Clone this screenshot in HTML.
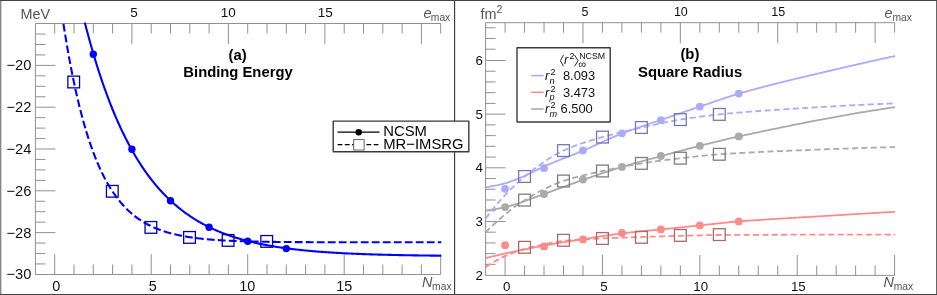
<!DOCTYPE html>
<html><head><meta charset="utf-8"><title>chart</title>
<style>
html,body{margin:0;padding:0;background:#fff;}
body{width:937px;height:295px;overflow:hidden;font-family:"Liberation Sans",sans-serif;}
svg{display:block;will-change:transform;font-family:"Liberation Sans",sans-serif;}
</style></head><body>
<svg width="937" height="295" viewBox="0 0 937 295">
<rect x="0" y="0" width="937" height="295" fill="#fff"/>
<g id="panelA">
<path d="M35.40,23.50H440.70M35.40,274.50H440.70M35.40,23.50V274.50" stroke="#858585" stroke-width="0.9" fill="none"/>
<path d="M54.70,23.50v10M54.70,274.50v-20.4M74.00,23.50v10M74.00,274.50v-10M93.30,23.50v10M93.30,274.50v-10M112.60,23.50v10M112.60,274.50v-10M131.90,23.50v20.4M131.90,274.50v-10M151.20,23.50v10M151.20,274.50v-20.4M170.50,23.50v10M170.50,274.50v-10M189.80,23.50v10M189.80,274.50v-10M209.10,23.50v10M209.10,274.50v-10M228.40,23.50v20.4M228.40,274.50v-10M247.70,23.50v10M247.70,274.50v-20.4M267.00,23.50v10M267.00,274.50v-10M286.30,23.50v10M286.30,274.50v-10M305.60,23.50v10M305.60,274.50v-10M324.90,23.50v20.4M324.90,274.50v-10M344.20,23.50v10M344.20,274.50v-20.4M363.50,23.50v10M363.50,274.50v-10M382.80,23.50v10M382.80,274.50v-10M402.10,23.50v10M402.10,274.50v-10M421.40,23.50v20.4M421.40,274.50v-10M440.70,23.50v10M440.70,274.50v-20.4M35.40,263.95h10M35.40,253.50h10M35.40,243.05h10M35.40,222.15h10M35.40,211.70h10M35.40,201.25h10M35.40,180.35h10M35.40,169.90h10M35.40,159.45h10M35.40,138.55h10M35.40,128.10h10M35.40,117.65h10M35.40,96.75h10M35.40,86.30h10M35.40,75.85h10M35.40,54.95h10M35.40,44.50h10M35.40,34.05h10M35.40,65.40h20M35.40,107.20h20M35.40,149.00h20M35.40,190.80h20M35.40,232.60h20" stroke="#858585" stroke-width="0.9" fill="none"/>
<text x="133.90" y="17.4" text-anchor="middle" font-size="13.5" fill="#111">5</text>
<text x="228.20" y="17.4" text-anchor="middle" font-size="13.5" fill="#111">10</text>
<text x="325.20" y="17.4" text-anchor="middle" font-size="13.5" fill="#111">15</text>
<text x="56.30" y="291.2" text-anchor="middle" font-size="14.4" fill="#111">0</text>
<text x="152.80" y="291.2" text-anchor="middle" font-size="14.4" fill="#111">5</text>
<text x="247.20" y="291.2" text-anchor="middle" font-size="14.4" fill="#111">10</text>
<text x="344.20" y="291.2" text-anchor="middle" font-size="14.4" fill="#111">15</text>
<text x="31.30" y="70.46" text-anchor="end" font-size="14.67" fill="#111">−20</text>
<text x="31.30" y="112.26" text-anchor="end" font-size="14.67" fill="#111">−22</text>
<text x="31.30" y="154.06" text-anchor="end" font-size="14.67" fill="#111">−24</text>
<text x="31.30" y="195.86" text-anchor="end" font-size="14.67" fill="#111">−26</text>
<text x="31.30" y="237.66" text-anchor="end" font-size="14.67" fill="#111">−28</text>
<text x="31.30" y="279.46" text-anchor="end" font-size="14.67" fill="#111">−30</text>
<text x="20.6" y="18.9" font-size="14.4" fill="#555">MeV</text>
<text x="423.6" y="18.2" font-size="14.4" fill="#555"><tspan font-style="italic">e</tspan><tspan font-size="10.3" dy="2.4" dx="-0.8">max</tspan></text>
<text x="422.0" y="287.4" font-size="14.4" fill="#555"><tspan font-style="italic">N</tspan><tspan font-size="10.3" dy="2.3" dx="-0.3">max</tspan></text>
<clipPath id="clipA"><rect x="30" y="22.4" width="420" height="260"/></clipPath>
<path d="M76.09,-14.20 L77.11,-9.63 L78.13,-5.14 L79.14,-0.73 L80.16,3.61 L81.18,7.88 L82.20,12.07 L83.21,16.20 L84.23,20.25 L85.25,24.24 L86.26,28.15 L87.28,32.01 L88.30,35.79 L89.32,39.51 L90.33,43.17 L91.35,46.77 L92.37,50.31 L93.39,53.79 L94.40,57.21 L95.42,60.57 L96.44,63.87 L97.45,67.12 L98.47,70.31 L99.49,73.45 L100.51,76.54 L101.52,79.58 L102.54,82.56 L103.56,85.49 L104.58,88.38 L105.59,91.21 L106.61,94.00 L107.63,96.74 L108.65,99.43 L109.66,102.08 L110.68,104.68 L111.70,107.24 L112.71,109.76 L113.73,112.23 L114.75,114.67 L115.77,117.06 L116.78,119.41 L117.80,121.72 L118.82,123.99 L119.84,126.23 L120.85,128.42 L121.87,130.58 L122.89,132.70 L123.90,134.79 L124.92,136.84 L125.94,138.86 L126.96,140.84 L127.97,142.79 L128.99,144.71 L130.01,146.59 L131.03,148.44 L132.04,150.26 L133.06,152.05 L134.08,153.81 L135.09,155.54 L136.11,157.24 L137.13,158.92 L138.15,160.56 L139.16,162.18 L140.18,163.77 L141.20,165.33 L142.22,166.86 L143.23,168.37 L144.25,169.86 L145.27,171.32 L146.28,172.75 L147.30,174.16 L148.32,175.55 L149.34,176.91 L150.35,178.25 L151.37,179.57 L152.39,180.87 L153.41,182.14 L154.42,183.39 L155.44,184.62 L156.46,185.83 L157.48,187.02 L158.49,188.19 L159.51,189.34 L160.53,190.47 L161.54,191.58 L162.56,192.68 L163.58,193.75 L164.60,194.81 L165.61,195.84 L166.63,196.87 L167.65,197.87 L168.67,198.86 L169.68,199.83 L170.70,200.78 L171.72,201.72 L172.73,202.64 L173.75,203.54 L174.77,204.43 L175.79,205.31 L176.80,206.17 L177.82,207.02 L178.84,207.85 L179.86,208.67 L180.87,209.47 L181.89,210.26 L182.91,211.04 L183.92,211.80 L184.94,212.55 L185.96,213.29 L186.98,214.02 L187.99,214.73 L189.01,215.43 L190.03,216.12 L191.05,216.80 L192.06,217.47 L193.08,218.13 L194.10,218.77 L195.12,219.40 L196.13,220.03 L197.15,220.64 L198.17,221.24 L199.18,221.83 L200.20,222.41 L201.22,222.99 L202.24,223.55 L203.25,224.10 L204.27,224.65 L205.29,225.18 L206.31,225.71 L207.32,226.22 L208.34,226.73 L209.36,227.23 L210.37,227.72 L211.39,228.20 L212.41,228.68 L213.43,229.14 L214.44,229.60 L215.46,230.05 L216.48,230.50 L217.50,230.93 L218.51,231.36 L219.53,231.78 L220.55,232.19 L221.56,232.60 L222.58,233.00 L223.60,233.39 L224.62,233.78 L225.63,234.16 L226.65,234.54 L227.67,234.90 L228.69,235.26 L229.70,235.62 L230.72,235.97 L231.74,236.31 L232.75,236.65 L233.77,236.98 L234.79,237.31 L235.81,237.63 L236.82,237.94 L237.84,238.25 L238.86,238.56 L239.88,238.86 L240.89,239.15 L241.91,239.44 L242.93,239.73 L243.95,240.01 L244.96,240.28 L245.98,240.55 L247.00,240.82 L248.01,241.08 L249.03,241.34 L250.05,241.59 L251.07,241.84 L252.08,242.08 L253.10,242.32 L254.12,242.56 L255.14,242.79 L256.15,243.02 L257.17,243.24 L258.19,243.46 L259.20,243.68 L260.22,243.89 L261.24,244.10 L262.26,244.31 L263.27,244.51 L264.29,244.71 L265.31,244.90 L266.33,245.10 L267.34,245.29 L268.36,245.47 L269.38,245.65 L270.39,245.83 L271.41,246.01 L272.43,246.18 L273.45,246.36 L274.46,246.52 L275.48,246.69 L276.50,246.85 L277.52,247.01 L278.53,247.17 L279.55,247.32 L280.57,247.47 L281.58,247.62 L282.60,247.77 L283.62,247.91 L284.64,248.05 L285.65,248.19 L286.67,248.33 L287.69,248.46 L288.71,248.60 L289.72,248.73 L290.74,248.85 L291.76,248.98 L292.78,249.10 L293.79,249.23 L294.81,249.34 L295.83,249.46 L296.84,249.58 L297.86,249.69 L298.88,249.80 L299.90,249.91 L300.91,250.02 L301.93,250.13 L302.95,250.23 L303.97,250.33 L304.98,250.43 L306.00,250.53 L307.02,250.63 L308.03,250.73 L309.05,250.82 L310.07,250.91 L311.09,251.00 L312.10,251.09 L313.12,251.18 L314.14,251.27 L315.16,251.35 L316.17,251.44 L317.19,251.52 L318.21,251.60 L319.22,251.68 L320.24,251.76 L321.26,251.83 L322.28,251.91 L323.29,251.98 L324.31,252.06 L325.33,252.13 L326.35,252.20 L327.36,252.27 L328.38,252.33 L329.40,252.40 L330.42,252.47 L331.43,252.53 L332.45,252.60 L333.47,252.66 L334.48,252.72 L335.50,252.78 L336.52,252.84 L337.54,252.90 L338.55,252.96 L339.57,253.01 L340.59,253.07 L341.61,253.12 L342.62,253.18 L343.64,253.23 L344.66,253.28 L345.67,253.33 L346.69,253.38 L347.71,253.43 L348.73,253.48 L349.74,253.53 L350.76,253.57 L351.78,253.62 L352.80,253.66 L353.81,253.71 L354.83,253.75 L355.85,253.80 L356.86,253.84 L357.88,253.88 L358.90,253.92 L359.92,253.96 L360.93,254.00 L361.95,254.04 L362.97,254.08 L363.99,254.11 L365.00,254.15 L366.02,254.19 L367.04,254.22 L368.05,254.26 L369.07,254.29 L370.09,254.33 L371.11,254.36 L372.12,254.39 L373.14,254.43 L374.16,254.46 L375.18,254.49 L376.19,254.52 L377.21,254.55 L378.23,254.58 L379.25,254.61 L380.26,254.64 L381.28,254.66 L382.30,254.69 L383.31,254.72 L384.33,254.75 L385.35,254.77 L386.37,254.80 L387.38,254.82 L388.40,254.85 L389.42,254.87 L390.44,254.90 L391.45,254.92 L392.47,254.94 L393.49,254.97 L394.50,254.99 L395.52,255.01 L396.54,255.03 L397.56,255.05 L398.57,255.08 L399.59,255.10 L400.61,255.12 L401.63,255.14 L402.64,255.16 L403.66,255.18 L404.68,255.19 L405.69,255.21 L406.71,255.23 L407.73,255.25 L408.75,255.27 L409.76,255.28 L410.78,255.30 L411.80,255.32 L412.82,255.33 L413.83,255.35 L414.85,255.37 L415.87,255.38 L416.88,255.40 L417.90,255.41 L418.92,255.43 L419.94,255.44 L420.95,255.46 L421.97,255.47 L422.99,255.49 L424.01,255.50 L425.02,255.51 L426.04,255.53 L427.06,255.54 L428.08,255.55 L429.09,255.57 L430.11,255.58 L431.13,255.59 L432.14,255.60 L433.16,255.61 L434.18,255.63 L435.20,255.64 L436.21,255.65 L437.23,255.66 L438.25,255.67 L439.27,255.68 L440.28,255.69 L441.30,255.70" stroke="#0000ff" stroke-width="2.1" fill="none" clip-path="url(#clipA)"/>
<path d="M57.78,-16.32 L58.80,-8.62 L59.82,-1.15 L60.83,6.10 L61.85,13.13 L62.87,19.95 L63.88,26.57 L64.90,33.00 L65.92,39.23 L66.94,45.28 L67.95,51.14 L68.97,56.83 L69.99,62.36 L71.01,67.71 L72.02,72.91 L73.04,77.96 L74.06,82.85 L75.07,87.60 L76.09,92.20 L77.11,96.67 L78.13,101.01 L79.14,105.22 L80.16,109.30 L81.18,113.26 L82.20,117.10 L83.21,120.83 L84.23,124.45 L85.25,127.96 L86.26,131.36 L87.28,134.66 L88.30,137.87 L89.32,140.98 L90.33,144.00 L91.35,146.92 L92.37,149.76 L93.39,152.52 L94.40,155.19 L95.42,157.79 L96.44,160.30 L97.45,162.74 L98.47,165.11 L99.49,167.41 L100.51,169.64 L101.52,171.81 L102.54,173.91 L103.56,175.94 L104.58,177.92 L105.59,179.84 L106.61,181.70 L107.63,183.50 L108.65,185.25 L109.66,186.95 L110.68,188.60 L111.70,190.20 L112.71,191.75 L113.73,193.26 L114.75,194.72 L115.77,196.13 L116.78,197.51 L117.80,198.84 L118.82,200.14 L119.84,201.39 L120.85,202.61 L121.87,203.79 L122.89,204.94 L123.90,206.05 L124.92,207.13 L125.94,208.18 L126.96,209.20 L127.97,210.18 L128.99,211.14 L130.01,212.07 L131.03,212.97 L132.04,213.84 L133.06,214.69 L134.08,215.51 L135.09,216.31 L136.11,217.09 L137.13,217.84 L138.15,218.57 L139.16,219.27 L140.18,219.96 L141.20,220.63 L142.22,221.27 L143.23,221.90 L144.25,222.51 L145.27,223.10 L146.28,223.67 L147.30,224.22 L148.32,224.76 L149.34,225.28 L150.35,225.79 L151.37,226.28 L152.39,226.76 L153.41,227.22 L154.42,227.67 L155.44,228.11 L156.46,228.53 L157.48,228.94 L158.49,229.34 L159.51,229.73 L160.53,230.10 L161.54,230.47 L162.56,230.82 L163.58,231.16 L164.60,231.49 L165.61,231.82 L166.63,232.13 L167.65,232.43 L168.67,232.73 L169.68,233.01 L170.70,233.29 L171.72,233.56 L172.73,233.82 L173.75,234.07 L174.77,234.32 L175.79,234.56 L176.80,234.79 L177.82,235.01 L178.84,235.23 L179.86,235.44 L180.87,235.65 L181.89,235.84 L182.91,236.04 L183.92,236.22 L184.94,236.41 L185.96,236.58 L186.98,236.75 L187.99,236.92 L189.01,237.08 L190.03,237.23 L191.05,237.39 L192.06,237.53 L193.08,237.68 L194.10,237.81 L195.12,237.95 L196.13,238.08 L197.15,238.20 L198.17,238.33 L199.18,238.45 L200.20,238.56 L201.22,238.67 L202.24,238.78 L203.25,238.89 L204.27,238.99 L205.29,239.09 L206.31,239.18 L207.32,239.28 L208.34,239.37 L209.36,239.46 L210.37,239.54 L211.39,239.62 L212.41,239.70 L213.43,239.78 L214.44,239.86 L215.46,239.93 L216.48,240.00 L217.50,240.07 L218.51,240.14 L219.53,240.20 L220.55,240.27 L221.56,240.33 L222.58,240.39 L223.60,240.44 L224.62,240.50 L225.63,240.55 L226.65,240.61 L227.67,240.66 L228.69,240.71 L229.70,240.76 L230.72,240.80 L231.74,240.85 L232.75,240.89 L233.77,240.93 L234.79,240.97 L235.81,241.01 L236.82,241.05 L237.84,241.09 L238.86,241.13 L239.88,241.16 L240.89,241.20 L241.91,241.23 L242.93,241.26 L243.95,241.30 L244.96,241.33 L245.98,241.36 L247.00,241.38 L248.01,241.41 L249.03,241.44 L250.05,241.47 L251.07,241.49 L252.08,241.52 L253.10,241.54 L254.12,241.56 L255.14,241.59 L256.15,241.61 L257.17,241.63 L258.19,241.65 L259.20,241.67 L260.22,241.69 L261.24,241.71 L262.26,241.73 L263.27,241.74 L264.29,241.76 L265.31,241.78 L266.33,241.79 L267.34,241.81 L268.36,241.82 L269.38,241.84 L270.39,241.85 L271.41,241.87 L272.43,241.88 L273.45,241.89 L274.46,241.91 L275.48,241.92 L276.50,241.93 L277.52,241.94 L278.53,241.95 L279.55,241.96 L280.57,241.97 L281.58,241.99 L282.60,242.00 L283.62,242.00 L284.64,242.01 L285.65,242.02 L286.67,242.03 L287.69,242.04 L288.71,242.05 L289.72,242.06 L290.74,242.06 L291.76,242.07 L292.78,242.08 L293.79,242.09 L294.81,242.09 L295.83,242.10 L296.84,242.11 L297.86,242.11 L298.88,242.12 L299.90,242.13 L300.91,242.13 L301.93,242.14 L302.95,242.14 L303.97,242.15 L304.98,242.15 L306.00,242.16 L307.02,242.16 L308.03,242.17 L309.05,242.17 L310.07,242.18 L311.09,242.18 L312.10,242.18 L313.12,242.19 L314.14,242.19 L315.16,242.20 L316.17,242.20 L317.19,242.20 L318.21,242.21 L319.22,242.21 L320.24,242.21 L321.26,242.22 L322.28,242.22 L323.29,242.22 L324.31,242.23 L325.33,242.23 L326.35,242.23 L327.36,242.23 L328.38,242.24 L329.40,242.24 L330.42,242.24 L331.43,242.24 L332.45,242.25 L333.47,242.25 L334.48,242.25 L335.50,242.25 L336.52,242.25 L337.54,242.26 L338.55,242.26 L339.57,242.26 L340.59,242.26 L341.61,242.26 L342.62,242.27 L343.64,242.27 L344.66,242.27 L345.67,242.27 L346.69,242.27 L347.71,242.27 L348.73,242.27 L349.74,242.28 L350.76,242.28 L351.78,242.28 L352.80,242.28 L353.81,242.28 L354.83,242.28 L355.85,242.28 L356.86,242.28 L357.88,242.29 L358.90,242.29 L359.92,242.29 L360.93,242.29 L361.95,242.29 L362.97,242.29 L363.99,242.29 L365.00,242.29 L366.02,242.29 L367.04,242.29 L368.05,242.29 L369.07,242.30 L370.09,242.30 L371.11,242.30 L372.12,242.30 L373.14,242.30 L374.16,242.30 L375.18,242.30 L376.19,242.30 L377.21,242.30 L378.23,242.30 L379.25,242.30 L380.26,242.30 L381.28,242.30 L382.30,242.30 L383.31,242.30 L384.33,242.30 L385.35,242.30 L386.37,242.31 L387.38,242.31 L388.40,242.31 L389.42,242.31 L390.44,242.31 L391.45,242.31 L392.47,242.31 L393.49,242.31 L394.50,242.31 L395.52,242.31 L396.54,242.31 L397.56,242.31 L398.57,242.31 L399.59,242.31 L400.61,242.31 L401.63,242.31 L402.64,242.31 L403.66,242.31 L404.68,242.31 L405.69,242.31 L406.71,242.31 L407.73,242.31 L408.75,242.31 L409.76,242.31 L410.78,242.31 L411.80,242.31 L412.82,242.31 L413.83,242.31 L414.85,242.31 L415.87,242.31 L416.88,242.31 L417.90,242.31 L418.92,242.31 L419.94,242.31 L420.95,242.31 L421.97,242.31 L422.99,242.31 L424.01,242.32 L425.02,242.32 L426.04,242.32 L427.06,242.32 L428.08,242.32 L429.09,242.32 L430.11,242.32 L431.13,242.32 L432.14,242.32 L433.16,242.32 L434.18,242.32 L435.20,242.32 L436.21,242.32 L437.23,242.32 L438.25,242.32 L439.27,242.32 L440.28,242.32 L441.30,242.32" stroke="#0000ff" stroke-width="2.1" fill="none" stroke-dasharray="7.8 3.2" stroke-dashoffset="3.5" clip-path="url(#clipA)"/>
<rect x="67.85" y="76.15" width="11.7" height="11.7" fill="none" stroke="#0000b0" stroke-width="1.3"/><rect x="106.45" y="185.45" width="11.7" height="11.7" fill="none" stroke="#0000b0" stroke-width="1.3"/><rect x="145.05" y="221.55" width="11.7" height="11.7" fill="none" stroke="#0000b0" stroke-width="1.3"/><rect x="183.65" y="231.55" width="11.7" height="11.7" fill="none" stroke="#0000b0" stroke-width="1.3"/><rect x="222.25" y="234.55" width="11.7" height="11.7" fill="none" stroke="#0000b0" stroke-width="1.3"/><rect x="260.85" y="235.55" width="11.7" height="11.7" fill="none" stroke="#0000b0" stroke-width="1.3"/>
<circle cx="93.30" cy="54.20" r="3.7" fill="#0000ff"/><circle cx="131.90" cy="149.30" r="3.7" fill="#0000ff"/><circle cx="170.50" cy="200.80" r="3.7" fill="#0000ff"/><circle cx="209.10" cy="227.20" r="3.7" fill="#0000ff"/><circle cx="247.70" cy="241.20" r="3.7" fill="#0000ff"/><circle cx="286.30" cy="248.60" r="3.7" fill="#0000ff"/>
<text x="237.6" y="59.7" text-anchor="middle" font-size="14.8" font-weight="bold" fill="#000">(a)</text>
<text x="238" y="77.3" text-anchor="middle" font-size="14.8" font-weight="bold" fill="#000">Binding Energy</text>
</g>
<g id="panelB">
<path d="M485.60,22.70H894.58M485.60,275.40H894.58M485.60,22.70V275.40" stroke="#858585" stroke-width="0.9" fill="none"/>
<path d="M505.08,22.70v10M505.08,275.40v-20.4M524.55,22.70v10M524.55,275.40v-10M544.02,22.70v10M544.02,275.40v-10M563.50,22.70v10M563.50,275.40v-10M582.98,22.70v20.4M582.98,275.40v-10M602.45,22.70v10M602.45,275.40v-20.4M621.93,22.70v10M621.93,275.40v-10M641.40,22.70v10M641.40,275.40v-10M660.88,22.70v10M660.88,275.40v-10M680.35,22.70v20.4M680.35,275.40v-10M699.83,22.70v10M699.83,275.40v-20.4M719.30,22.70v10M719.30,275.40v-10M738.78,22.70v10M738.78,275.40v-10M758.25,22.70v10M758.25,275.40v-10M777.73,22.70v20.4M777.73,275.40v-10M797.20,22.70v10M797.20,275.40v-20.4M816.68,22.70v10M816.68,275.40v-10M836.15,22.70v10M836.15,275.40v-10M855.62,22.70v10M855.62,275.40v-10M875.10,22.70v20.4M875.10,275.40v-10M894.58,22.70v10M894.58,275.40v-20.4M485.60,264.37h10M485.60,253.64h10M485.60,242.91h10M485.60,232.18h10M485.60,210.72h10M485.60,199.99h10M485.60,189.26h10M485.60,178.53h10M485.60,157.07h10M485.60,146.34h10M485.60,135.61h10M485.60,124.88h10M485.60,103.42h10M485.60,92.69h10M485.60,81.96h10M485.60,71.23h10M485.60,49.22h10M485.60,38.49h10M485.60,27.76h10M485.60,221.45h20M485.60,167.80h20M485.60,114.15h20M485.60,60.50h20" stroke="#858585" stroke-width="0.9" fill="none"/>
<text x="584.88" y="15.7" text-anchor="middle" font-size="12.5" fill="#111">5</text>
<text x="680.85" y="15.7" text-anchor="middle" font-size="12.5" fill="#111">10</text>
<text x="778.23" y="15.7" text-anchor="middle" font-size="12.5" fill="#111">15</text>
<text x="506.68" y="291.2" text-anchor="middle" font-size="13.3" fill="#111">0</text>
<text x="604.05" y="291.2" text-anchor="middle" font-size="13.3" fill="#111">5</text>
<text x="700.73" y="291.2" text-anchor="middle" font-size="13.3" fill="#111">10</text>
<text x="798.30" y="291.2" text-anchor="middle" font-size="13.3" fill="#111">15</text>
<text x="482.80" y="279.69" text-anchor="end" font-size="13.3" fill="#111">2</text>
<text x="482.80" y="226.04" text-anchor="end" font-size="13.3" fill="#111">3</text>
<text x="482.80" y="172.39" text-anchor="end" font-size="13.3" fill="#111">4</text>
<text x="482.80" y="118.74" text-anchor="end" font-size="13.3" fill="#111">5</text>
<text x="482.80" y="65.09" text-anchor="end" font-size="13.3" fill="#111">6</text>
<text x="480.4" y="18.9" font-size="14.4" fill="#555">fm<tspan font-size="10.5" dy="-6">2</tspan></text>
<text x="884.6" y="18.2" font-size="14.4" fill="#555"><tspan font-style="italic">e</tspan><tspan font-size="10.3" dy="2.4" dx="-0.2">max</tspan></text>
<text x="883.6" y="287.4" font-size="14.4" fill="#555"><tspan font-style="italic">N</tspan><tspan font-size="10.3" dy="2.3" dx="-0.3">max</tspan></text>
<path d="M485.60,210.56 L486.97,210.39 L488.34,210.20 L489.71,210.01 L491.08,209.80 L492.45,209.58 L493.82,209.35 L495.19,209.12 L496.56,208.87 L497.93,208.61 L499.29,208.35 L500.66,208.07 L502.03,207.79 L503.40,207.50 L504.77,207.20 L506.14,206.88 L507.51,206.55 L508.88,206.20 L510.25,205.84 L511.62,205.45 L512.99,205.05 L514.36,204.63 L515.73,204.20 L517.10,203.76 L518.47,203.31 L519.84,202.84 L521.21,202.37 L522.58,201.88 L523.95,201.39 L525.31,200.89 L526.68,200.39 L528.05,199.88 L529.42,199.37 L530.79,198.86 L532.16,198.34 L533.53,197.83 L534.90,197.32 L536.27,196.80 L537.64,196.29 L539.01,195.79 L540.38,195.29 L541.75,194.80 L543.12,194.31 L544.49,193.83 L545.86,193.35 L547.23,192.87 L548.60,192.38 L549.97,191.89 L551.34,191.40 L552.70,190.91 L554.07,190.41 L555.44,189.92 L556.81,189.42 L558.18,188.92 L559.55,188.42 L560.92,187.92 L562.29,187.42 L563.66,186.92 L565.03,186.42 L566.40,185.91 L567.77,185.41 L569.14,184.92 L570.51,184.42 L571.88,183.92 L573.25,183.42 L574.62,182.93 L575.99,182.44 L577.36,181.95 L578.72,181.46 L580.09,180.98 L581.46,180.50 L582.83,180.02 L584.20,179.55 L585.57,179.07 L586.94,178.59 L588.31,178.12 L589.68,177.64 L591.05,177.16 L592.42,176.69 L593.79,176.21 L595.16,175.74 L596.53,175.26 L597.90,174.79 L599.27,174.32 L600.64,173.85 L602.01,173.38 L603.38,172.92 L604.74,172.45 L606.11,171.99 L607.48,171.54 L608.85,171.08 L610.22,170.63 L611.59,170.18 L612.96,169.73 L614.33,169.29 L615.70,168.86 L617.07,168.42 L618.44,167.99 L619.81,167.57 L621.18,167.15 L622.55,166.73 L623.92,166.32 L625.29,165.92 L626.66,165.52 L628.03,165.12 L629.40,164.73 L630.77,164.34 L632.13,163.95 L633.50,163.56 L634.87,163.18 L636.24,162.81 L637.61,162.43 L638.98,162.05 L640.35,161.68 L641.72,161.31 L643.09,160.94 L644.46,160.58 L645.83,160.21 L647.20,159.84 L648.57,159.48 L649.94,159.11 L651.31,158.75 L652.68,158.38 L654.05,158.02 L655.42,157.65 L656.79,157.29 L658.15,156.92 L659.52,156.55 L660.89,156.18 L662.26,155.81 L663.63,155.44 L665.00,155.07 L666.37,154.70 L667.74,154.33 L669.11,153.95 L670.48,153.58 L671.85,153.21 L673.22,152.84 L674.59,152.47 L675.96,152.10 L677.33,151.73 L678.70,151.36 L680.07,150.99 L681.44,150.62 L682.81,150.26 L684.17,149.89 L685.54,149.53 L686.91,149.17 L688.28,148.80 L689.65,148.44 L691.02,148.08 L692.39,147.73 L693.76,147.37 L695.13,147.02 L696.50,146.67 L697.87,146.32 L699.24,145.97 L700.61,145.62 L701.98,145.28 L703.35,144.93 L704.72,144.58 L706.09,144.24 L707.46,143.89 L708.83,143.55 L710.19,143.21 L711.56,142.87 L712.93,142.53 L714.30,142.19 L715.67,141.85 L717.04,141.51 L718.41,141.17 L719.78,140.84 L721.15,140.51 L722.52,140.18 L723.89,139.85 L725.26,139.52 L726.63,139.20 L728.00,138.88 L729.37,138.56 L730.74,138.24 L732.11,137.93 L733.48,137.62 L734.85,137.31 L736.22,137.01 L737.58,136.71 L738.95,136.41 L740.32,136.11 L741.69,135.82 L743.06,135.52 L744.43,135.23 L745.80,134.93 L747.17,134.64 L748.54,134.35 L749.91,134.05 L751.28,133.76 L752.65,133.47 L754.02,133.18 L755.39,132.89 L756.76,132.59 L758.13,132.30 L759.50,132.01 L760.87,131.72 L762.24,131.44 L763.60,131.15 L764.97,130.86 L766.34,130.57 L767.71,130.28 L769.08,130.00 L770.45,129.71 L771.82,129.43 L773.19,129.14 L774.56,128.86 L775.93,128.57 L777.30,128.29 L778.67,128.01 L780.04,127.73 L781.41,127.45 L782.78,127.17 L784.15,126.89 L785.52,126.61 L786.89,126.33 L788.26,126.05 L789.62,125.77 L790.99,125.50 L792.36,125.22 L793.73,124.94 L795.10,124.67 L796.47,124.40 L797.84,124.12 L799.21,123.85 L800.58,123.58 L801.95,123.31 L803.32,123.04 L804.69,122.77 L806.06,122.50 L807.43,122.23 L808.80,121.96 L810.17,121.70 L811.54,121.43 L812.91,121.17 L814.28,120.90 L815.65,120.64 L817.01,120.38 L818.38,120.12 L819.75,119.86 L821.12,119.60 L822.49,119.34 L823.86,119.08 L825.23,118.82 L826.60,118.57 L827.97,118.31 L829.34,118.06 L830.71,117.80 L832.08,117.55 L833.45,117.30 L834.82,117.05 L836.19,116.80 L837.56,116.55 L838.93,116.30 L840.30,116.06 L841.67,115.81 L843.03,115.57 L844.40,115.32 L845.77,115.08 L847.14,114.84 L848.51,114.60 L849.88,114.36 L851.25,114.12 L852.62,113.88 L853.99,113.65 L855.36,113.41 L856.73,113.18 L858.10,112.94 L859.47,112.71 L860.84,112.48 L862.21,112.25 L863.58,112.02 L864.95,111.80 L866.32,111.57 L867.69,111.34 L869.05,111.12 L870.42,110.90 L871.79,110.68 L873.16,110.46 L874.53,110.24 L875.90,110.02 L877.27,109.80 L878.64,109.59 L880.01,109.37 L881.38,109.16 L882.75,108.95 L884.12,108.74 L885.49,108.53 L886.86,108.32 L888.23,108.11 L889.60,107.91 L890.97,107.70 L892.34,107.50 L893.71,107.30 L895.08,107.10" stroke="#aaaaaa" stroke-width="1.8" fill="none"/>
<path d="M485.60,232.40 L486.97,231.05 L488.34,229.70 L489.71,228.37 L491.08,227.06 L492.45,225.76 L493.82,224.47 L495.19,223.20 L496.56,221.94 L497.93,220.70 L499.29,219.47 L500.66,218.26 L502.03,217.06 L503.40,215.89 L504.77,214.73 L506.14,213.59 L507.51,212.46 L508.88,211.36 L510.25,210.28 L511.62,209.21 L512.99,208.17 L514.36,207.14 L515.73,206.14 L517.10,205.15 L518.47,204.19 L519.84,203.25 L521.21,202.33 L522.58,201.44 L523.95,200.57 L525.31,199.72 L526.68,198.88 L528.05,198.06 L529.42,197.24 L530.79,196.43 L532.16,195.63 L533.53,194.84 L534.90,194.07 L536.27,193.30 L537.64,192.55 L539.01,191.81 L540.38,191.08 L541.75,190.37 L543.12,189.66 L544.49,188.97 L545.86,188.30 L547.23,187.64 L548.60,186.99 L549.97,186.36 L551.34,185.74 L552.70,185.14 L554.07,184.55 L555.44,183.98 L556.81,183.43 L558.18,182.89 L559.55,182.37 L560.92,181.87 L562.29,181.38 L563.66,180.91 L565.03,180.46 L566.40,180.02 L567.77,179.59 L569.14,179.17 L570.51,178.76 L571.88,178.36 L573.25,177.97 L574.62,177.59 L575.99,177.21 L577.36,176.85 L578.72,176.49 L580.09,176.14 L581.46,175.80 L582.83,175.46 L584.20,175.13 L585.57,174.80 L586.94,174.48 L588.31,174.16 L589.68,173.85 L591.05,173.54 L592.42,173.23 L593.79,172.92 L595.16,172.62 L596.53,172.31 L597.90,172.01 L599.27,171.71 L600.64,171.41 L602.01,171.11 L603.38,170.81 L604.74,170.51 L606.11,170.21 L607.48,169.91 L608.85,169.62 L610.22,169.32 L611.59,169.03 L612.96,168.74 L614.33,168.46 L615.70,168.17 L617.07,167.89 L618.44,167.61 L619.81,167.34 L621.18,167.07 L622.55,166.80 L623.92,166.53 L625.29,166.26 L626.66,166.00 L628.03,165.75 L629.40,165.49 L630.77,165.24 L632.13,165.00 L633.50,164.75 L634.87,164.52 L636.24,164.28 L637.61,164.05 L638.98,163.82 L640.35,163.60 L641.72,163.38 L643.09,163.17 L644.46,162.95 L645.83,162.74 L647.20,162.54 L648.57,162.34 L649.94,162.13 L651.31,161.94 L652.68,161.74 L654.05,161.55 L655.42,161.36 L656.79,161.17 L658.15,160.98 L659.52,160.80 L660.89,160.61 L662.26,160.44 L663.63,160.26 L665.00,160.08 L666.37,159.91 L667.74,159.74 L669.11,159.57 L670.48,159.40 L671.85,159.23 L673.22,159.07 L674.59,158.90 L675.96,158.74 L677.33,158.58 L678.70,158.42 L680.07,158.26 L681.44,158.10 L682.81,157.95 L684.17,157.79 L685.54,157.63 L686.91,157.48 L688.28,157.32 L689.65,157.16 L691.02,157.01 L692.39,156.86 L693.76,156.70 L695.13,156.55 L696.50,156.40 L697.87,156.26 L699.24,156.11 L700.61,155.97 L701.98,155.82 L703.35,155.69 L704.72,155.55 L706.09,155.42 L707.46,155.29 L708.83,155.16 L710.19,155.03 L711.56,154.91 L712.93,154.80 L714.30,154.68 L715.67,154.57 L717.04,154.47 L718.41,154.37 L719.78,154.27 L721.15,154.18 L722.52,154.09 L723.89,154.00 L725.26,153.91 L726.63,153.82 L728.00,153.73 L729.37,153.65 L730.74,153.56 L732.11,153.48 L733.48,153.40 L734.85,153.31 L736.22,153.23 L737.58,153.15 L738.95,153.08 L740.32,153.00 L741.69,152.92 L743.06,152.85 L744.43,152.78 L745.80,152.70 L747.17,152.63 L748.54,152.56 L749.91,152.49 L751.28,152.42 L752.65,152.35 L754.02,152.28 L755.39,152.22 L756.76,152.15 L758.13,152.08 L759.50,152.02 L760.87,151.95 L762.24,151.89 L763.60,151.83 L764.97,151.77 L766.34,151.70 L767.71,151.64 L769.08,151.58 L770.45,151.52 L771.82,151.46 L773.19,151.40 L774.56,151.34 L775.93,151.29 L777.30,151.23 L778.67,151.17 L780.04,151.11 L781.41,151.06 L782.78,151.00 L784.15,150.94 L785.52,150.89 L786.89,150.83 L788.26,150.77 L789.62,150.72 L790.99,150.66 L792.36,150.61 L793.73,150.55 L795.10,150.50 L796.47,150.44 L797.84,150.39 L799.21,150.33 L800.58,150.28 L801.95,150.22 L803.32,150.17 L804.69,150.11 L806.06,150.06 L807.43,150.00 L808.80,149.95 L810.17,149.90 L811.54,149.84 L812.91,149.79 L814.28,149.74 L815.65,149.68 L817.01,149.63 L818.38,149.58 L819.75,149.52 L821.12,149.47 L822.49,149.42 L823.86,149.37 L825.23,149.32 L826.60,149.27 L827.97,149.22 L829.34,149.16 L830.71,149.11 L832.08,149.06 L833.45,149.01 L834.82,148.97 L836.19,148.92 L837.56,148.87 L838.93,148.82 L840.30,148.77 L841.67,148.72 L843.03,148.67 L844.40,148.63 L845.77,148.58 L847.14,148.53 L848.51,148.48 L849.88,148.44 L851.25,148.39 L852.62,148.35 L853.99,148.30 L855.36,148.26 L856.73,148.21 L858.10,148.17 L859.47,148.12 L860.84,148.08 L862.21,148.04 L863.58,147.99 L864.95,147.95 L866.32,147.91 L867.69,147.86 L869.05,147.82 L870.42,147.78 L871.79,147.74 L873.16,147.70 L874.53,147.66 L875.90,147.62 L877.27,147.58 L878.64,147.54 L880.01,147.50 L881.38,147.46 L882.75,147.42 L884.12,147.39 L885.49,147.35 L886.86,147.31 L888.23,147.28 L889.60,147.24 L890.97,147.20 L892.34,147.17 L893.71,147.13 L895.08,147.10" stroke="#aaaaaa" stroke-width="1.8" fill="none" stroke-dasharray="6 3.4"/>
<path d="M485.60,187.27 L486.97,187.10 L488.34,186.91 L489.71,186.71 L491.08,186.48 L492.45,186.24 L493.82,185.98 L495.19,185.71 L496.56,185.42 L497.93,185.13 L499.29,184.81 L500.66,184.49 L502.03,184.16 L503.40,183.82 L504.77,183.45 L506.14,183.05 L507.51,182.63 L508.88,182.18 L510.25,181.70 L511.62,181.21 L512.99,180.70 L514.36,180.17 L515.73,179.63 L517.10,179.08 L518.47,178.52 L519.84,177.95 L521.21,177.37 L522.58,176.80 L523.95,176.22 L525.31,175.64 L526.68,175.03 L528.05,174.40 L529.42,173.74 L530.79,173.07 L532.16,172.38 L533.53,171.68 L534.90,170.98 L536.27,170.28 L537.64,169.58 L539.01,168.89 L540.38,168.21 L541.75,167.54 L543.12,166.90 L544.49,166.28 L545.86,165.68 L547.23,165.08 L548.60,164.49 L549.97,163.91 L551.34,163.34 L552.70,162.77 L554.07,162.21 L555.44,161.65 L556.81,161.10 L558.18,160.56 L559.55,160.01 L560.92,159.47 L562.29,158.93 L563.66,158.40 L565.03,157.86 L566.40,157.32 L567.77,156.79 L569.14,156.25 L570.51,155.72 L571.88,155.18 L573.25,154.63 L574.62,154.09 L575.99,153.54 L577.36,152.99 L578.72,152.43 L580.09,151.87 L581.46,151.30 L582.83,150.73 L584.20,150.15 L585.57,149.56 L586.94,148.96 L588.31,148.36 L589.68,147.75 L591.05,147.14 L592.42,146.52 L593.79,145.90 L595.16,145.28 L596.53,144.65 L597.90,144.02 L599.27,143.40 L600.64,142.77 L602.01,142.14 L603.38,141.52 L604.74,140.89 L606.11,140.27 L607.48,139.66 L608.85,139.04 L610.22,138.43 L611.59,137.83 L612.96,137.24 L614.33,136.65 L615.70,136.06 L617.07,135.49 L618.44,134.92 L619.81,134.37 L621.18,133.82 L622.55,133.29 L623.92,132.76 L625.29,132.24 L626.66,131.73 L628.03,131.22 L629.40,130.72 L630.77,130.22 L632.13,129.73 L633.50,129.24 L634.87,128.76 L636.24,128.28 L637.61,127.80 L638.98,127.33 L640.35,126.86 L641.72,126.39 L643.09,125.93 L644.46,125.46 L645.83,125.00 L647.20,124.54 L648.57,124.08 L649.94,123.62 L651.31,123.16 L652.68,122.70 L654.05,122.24 L655.42,121.77 L656.79,121.31 L658.15,120.84 L659.52,120.38 L660.89,119.91 L662.26,119.43 L663.63,118.96 L665.00,118.49 L666.37,118.02 L667.74,117.55 L669.11,117.08 L670.48,116.61 L671.85,116.14 L673.22,115.67 L674.59,115.20 L675.96,114.73 L677.33,114.26 L678.70,113.79 L680.07,113.32 L681.44,112.86 L682.81,112.39 L684.17,111.92 L685.54,111.46 L686.91,110.99 L688.28,110.53 L689.65,110.06 L691.02,109.60 L692.39,109.13 L693.76,108.67 L695.13,108.21 L696.50,107.75 L697.87,107.28 L699.24,106.82 L700.61,106.36 L701.98,105.90 L703.35,105.43 L704.72,104.96 L706.09,104.49 L707.46,104.02 L708.83,103.55 L710.19,103.07 L711.56,102.60 L712.93,102.12 L714.30,101.65 L715.67,101.18 L717.04,100.70 L718.41,100.23 L719.78,99.77 L721.15,99.30 L722.52,98.84 L723.89,98.38 L725.26,97.92 L726.63,97.47 L728.00,97.02 L729.37,96.57 L730.74,96.13 L732.11,95.70 L733.48,95.27 L734.85,94.84 L736.22,94.43 L737.58,94.02 L738.95,93.61 L740.32,93.22 L741.69,92.82 L743.06,92.43 L744.43,92.04 L745.80,91.65 L747.17,91.26 L748.54,90.88 L749.91,90.50 L751.28,90.12 L752.65,89.75 L754.02,89.38 L755.39,89.01 L756.76,88.64 L758.13,88.27 L759.50,87.91 L760.87,87.54 L762.24,87.18 L763.60,86.82 L764.97,86.47 L766.34,86.11 L767.71,85.76 L769.08,85.41 L770.45,85.06 L771.82,84.71 L773.19,84.36 L774.56,84.02 L775.93,83.67 L777.30,83.33 L778.67,82.99 L780.04,82.65 L781.41,82.31 L782.78,81.98 L784.15,81.64 L785.52,81.31 L786.89,80.97 L788.26,80.64 L789.62,80.31 L790.99,79.98 L792.36,79.65 L793.73,79.32 L795.10,78.99 L796.47,78.66 L797.84,78.34 L799.21,78.01 L800.58,77.68 L801.95,77.36 L803.32,77.04 L804.69,76.71 L806.06,76.39 L807.43,76.06 L808.80,75.74 L810.17,75.42 L811.54,75.10 L812.91,74.77 L814.28,74.45 L815.65,74.13 L817.01,73.81 L818.38,73.48 L819.75,73.16 L821.12,72.84 L822.49,72.52 L823.86,72.19 L825.23,71.87 L826.60,71.55 L827.97,71.22 L829.34,70.90 L830.71,70.57 L832.08,70.25 L833.45,69.93 L834.82,69.60 L836.19,69.28 L837.56,68.96 L838.93,68.64 L840.30,68.32 L841.67,67.99 L843.03,67.68 L844.40,67.36 L845.77,67.04 L847.14,66.72 L848.51,66.40 L849.88,66.09 L851.25,65.77 L852.62,65.46 L853.99,65.14 L855.36,64.83 L856.73,64.52 L858.10,64.21 L859.47,63.89 L860.84,63.58 L862.21,63.27 L863.58,62.96 L864.95,62.65 L866.32,62.34 L867.69,62.04 L869.05,61.73 L870.42,61.42 L871.79,61.12 L873.16,60.81 L874.53,60.51 L875.90,60.20 L877.27,59.90 L878.64,59.59 L880.01,59.29 L881.38,58.99 L882.75,58.69 L884.12,58.39 L885.49,58.09 L886.86,57.79 L888.23,57.49 L889.60,57.19 L890.97,56.89 L892.34,56.59 L893.71,56.30 L895.08,56.00" stroke="#aaaaff" stroke-width="1.8" fill="none"/>
<path d="M485.60,218.50 L486.97,216.70 L488.34,214.92 L489.71,213.16 L491.08,211.42 L492.45,209.71 L493.82,208.02 L495.19,206.36 L496.56,204.72 L497.93,203.11 L499.29,201.52 L500.66,199.96 L502.03,198.43 L503.40,196.93 L504.77,195.45 L506.14,194.00 L507.51,192.57 L508.88,191.16 L510.25,189.76 L511.62,188.38 L512.99,187.02 L514.36,185.69 L515.73,184.38 L517.10,183.09 L518.47,181.83 L519.84,180.61 L521.21,179.41 L522.58,178.24 L523.95,177.11 L525.31,176.01 L526.68,174.92 L528.05,173.83 L529.42,172.75 L530.79,171.68 L532.16,170.62 L533.53,169.57 L534.90,168.53 L536.27,167.49 L537.64,166.47 L539.01,165.47 L540.38,164.47 L541.75,163.50 L543.12,162.53 L544.49,161.58 L545.86,160.65 L547.23,159.74 L548.60,158.85 L549.97,157.97 L551.34,157.12 L552.70,156.28 L554.07,155.47 L555.44,154.68 L556.81,153.92 L558.18,153.18 L559.55,152.46 L560.92,151.78 L562.29,151.11 L563.66,150.48 L565.03,149.87 L566.40,149.27 L567.77,148.68 L569.14,148.11 L570.51,147.56 L571.88,147.01 L573.25,146.48 L574.62,145.96 L575.99,145.45 L577.36,144.95 L578.72,144.46 L580.09,143.98 L581.46,143.52 L582.83,143.06 L584.20,142.60 L585.57,142.16 L586.94,141.72 L588.31,141.29 L589.68,140.87 L591.05,140.45 L592.42,140.03 L593.79,139.62 L595.16,139.22 L596.53,138.82 L597.90,138.42 L599.27,138.03 L600.64,137.63 L602.01,137.24 L603.38,136.85 L604.74,136.47 L606.11,136.09 L607.48,135.72 L608.85,135.35 L610.22,134.99 L611.59,134.63 L612.96,134.28 L614.33,133.93 L615.70,133.59 L617.07,133.25 L618.44,132.91 L619.81,132.58 L621.18,132.25 L622.55,131.93 L623.92,131.60 L625.29,131.28 L626.66,130.96 L628.03,130.65 L629.40,130.34 L630.77,130.02 L632.13,129.71 L633.50,129.41 L634.87,129.10 L636.24,128.79 L637.61,128.49 L638.98,128.18 L640.35,127.88 L641.72,127.57 L643.09,127.27 L644.46,126.96 L645.83,126.66 L647.20,126.35 L648.57,126.05 L649.94,125.74 L651.31,125.44 L652.68,125.13 L654.05,124.83 L655.42,124.53 L656.79,124.23 L658.15,123.94 L659.52,123.64 L660.89,123.35 L662.26,123.06 L663.63,122.78 L665.00,122.49 L666.37,122.21 L667.74,121.94 L669.11,121.67 L670.48,121.40 L671.85,121.14 L673.22,120.89 L674.59,120.63 L675.96,120.39 L677.33,120.15 L678.70,119.91 L680.07,119.69 L681.44,119.46 L682.81,119.25 L684.17,119.03 L685.54,118.81 L686.91,118.60 L688.28,118.39 L689.65,118.18 L691.02,117.98 L692.39,117.77 L693.76,117.57 L695.13,117.38 L696.50,117.18 L697.87,116.99 L699.24,116.80 L700.61,116.62 L701.98,116.43 L703.35,116.25 L704.72,116.08 L706.09,115.90 L707.46,115.73 L708.83,115.57 L710.19,115.40 L711.56,115.24 L712.93,115.09 L714.30,114.94 L715.67,114.79 L717.04,114.64 L718.41,114.50 L719.78,114.36 L721.15,114.23 L722.52,114.09 L723.89,113.96 L725.26,113.83 L726.63,113.70 L728.00,113.57 L729.37,113.44 L730.74,113.32 L732.11,113.20 L733.48,113.07 L734.85,112.95 L736.22,112.83 L737.58,112.71 L738.95,112.60 L740.32,112.48 L741.69,112.37 L743.06,112.25 L744.43,112.14 L745.80,112.03 L747.17,111.92 L748.54,111.81 L749.91,111.70 L751.28,111.60 L752.65,111.49 L754.02,111.39 L755.39,111.28 L756.76,111.18 L758.13,111.08 L759.50,110.98 L760.87,110.88 L762.24,110.78 L763.60,110.68 L764.97,110.58 L766.34,110.49 L767.71,110.39 L769.08,110.30 L770.45,110.20 L771.82,110.11 L773.19,110.02 L774.56,109.92 L775.93,109.83 L777.30,109.74 L778.67,109.65 L780.04,109.56 L781.41,109.47 L782.78,109.38 L784.15,109.30 L785.52,109.21 L786.89,109.12 L788.26,109.03 L789.62,108.95 L790.99,108.86 L792.36,108.77 L793.73,108.69 L795.10,108.60 L796.47,108.52 L797.84,108.43 L799.21,108.35 L800.58,108.26 L801.95,108.18 L803.32,108.10 L804.69,108.01 L806.06,107.93 L807.43,107.85 L808.80,107.76 L810.17,107.68 L811.54,107.60 L812.91,107.52 L814.28,107.44 L815.65,107.36 L817.01,107.27 L818.38,107.19 L819.75,107.11 L821.12,107.03 L822.49,106.96 L823.86,106.88 L825.23,106.80 L826.60,106.72 L827.97,106.64 L829.34,106.56 L830.71,106.49 L832.08,106.41 L833.45,106.33 L834.82,106.26 L836.19,106.18 L837.56,106.11 L838.93,106.03 L840.30,105.96 L841.67,105.89 L843.03,105.81 L844.40,105.74 L845.77,105.67 L847.14,105.60 L848.51,105.52 L849.88,105.45 L851.25,105.38 L852.62,105.31 L853.99,105.24 L855.36,105.17 L856.73,105.10 L858.10,105.04 L859.47,104.97 L860.84,104.90 L862.21,104.83 L863.58,104.77 L864.95,104.70 L866.32,104.64 L867.69,104.57 L869.05,104.51 L870.42,104.45 L871.79,104.38 L873.16,104.32 L874.53,104.26 L875.90,104.20 L877.27,104.14 L878.64,104.08 L880.01,104.02 L881.38,103.96 L882.75,103.90 L884.12,103.84 L885.49,103.78 L886.86,103.73 L888.23,103.67 L889.60,103.62 L890.97,103.56 L892.34,103.51 L893.71,103.45 L895.08,103.40" stroke="#aaaaff" stroke-width="1.8" fill="none" stroke-dasharray="6 3.4"/>
<path d="M485.60,258.12 L486.97,257.78 L488.34,257.43 L489.71,257.09 L491.08,256.75 L492.45,256.42 L493.82,256.08 L495.19,255.76 L496.56,255.43 L497.93,255.11 L499.29,254.79 L500.66,254.47 L502.03,254.16 L503.40,253.85 L504.77,253.55 L506.14,253.25 L507.51,252.95 L508.88,252.66 L510.25,252.38 L511.62,252.09 L512.99,251.81 L514.36,251.53 L515.73,251.26 L517.10,250.98 L518.47,250.71 L519.84,250.44 L521.21,250.16 L522.58,249.89 L523.95,249.61 L525.31,249.34 L526.68,249.06 L528.05,248.78 L529.42,248.50 L530.79,248.21 L532.16,247.93 L533.53,247.65 L534.90,247.37 L536.27,247.09 L537.64,246.82 L539.01,246.55 L540.38,246.28 L541.75,246.02 L543.12,245.76 L544.49,245.51 L545.86,245.26 L547.23,245.02 L548.60,244.78 L549.97,244.53 L551.34,244.30 L552.70,244.06 L554.07,243.83 L555.44,243.59 L556.81,243.36 L558.18,243.14 L559.55,242.91 L560.92,242.68 L562.29,242.46 L563.66,242.24 L565.03,242.02 L566.40,241.80 L567.77,241.58 L569.14,241.36 L570.51,241.14 L571.88,240.92 L573.25,240.71 L574.62,240.49 L575.99,240.28 L577.36,240.07 L578.72,239.85 L580.09,239.64 L581.46,239.42 L582.83,239.21 L584.20,239.00 L585.57,238.78 L586.94,238.57 L588.31,238.35 L589.68,238.13 L591.05,237.91 L592.42,237.70 L593.79,237.48 L595.16,237.26 L596.53,237.05 L597.90,236.83 L599.27,236.62 L600.64,236.41 L602.01,236.20 L603.38,235.99 L604.74,235.78 L606.11,235.57 L607.48,235.37 L608.85,235.17 L610.22,234.97 L611.59,234.77 L612.96,234.58 L614.33,234.39 L615.70,234.21 L617.07,234.02 L618.44,233.85 L619.81,233.67 L621.18,233.50 L622.55,233.33 L623.92,233.17 L625.29,233.01 L626.66,232.86 L628.03,232.70 L629.40,232.55 L630.77,232.41 L632.13,232.26 L633.50,232.12 L634.87,231.98 L636.24,231.84 L637.61,231.70 L638.98,231.57 L640.35,231.43 L641.72,231.30 L643.09,231.17 L644.46,231.03 L645.83,230.90 L647.20,230.77 L648.57,230.64 L649.94,230.51 L651.31,230.38 L652.68,230.25 L654.05,230.11 L655.42,229.98 L656.79,229.84 L658.15,229.71 L659.52,229.57 L660.89,229.43 L662.26,229.29 L663.63,229.15 L665.00,229.01 L666.37,228.87 L667.74,228.73 L669.11,228.59 L670.48,228.44 L671.85,228.30 L673.22,228.16 L674.59,228.02 L675.96,227.88 L677.33,227.73 L678.70,227.59 L680.07,227.45 L681.44,227.31 L682.81,227.17 L684.17,227.02 L685.54,226.88 L686.91,226.74 L688.28,226.60 L689.65,226.46 L691.02,226.32 L692.39,226.17 L693.76,226.03 L695.13,225.89 L696.50,225.75 L697.87,225.61 L699.24,225.47 L700.61,225.33 L701.98,225.18 L703.35,225.04 L704.72,224.89 L706.09,224.75 L707.46,224.60 L708.83,224.45 L710.19,224.30 L711.56,224.15 L712.93,224.00 L714.30,223.85 L715.67,223.70 L717.04,223.55 L718.41,223.40 L719.78,223.25 L721.15,223.11 L722.52,222.96 L723.89,222.82 L725.26,222.68 L726.63,222.54 L728.00,222.40 L729.37,222.26 L730.74,222.13 L732.11,222.00 L733.48,221.88 L734.85,221.75 L736.22,221.63 L737.58,221.52 L738.95,221.40 L740.32,221.29 L741.69,221.19 L743.06,221.08 L744.43,220.98 L745.80,220.87 L747.17,220.77 L748.54,220.67 L749.91,220.57 L751.28,220.47 L752.65,220.37 L754.02,220.28 L755.39,220.18 L756.76,220.09 L758.13,220.00 L759.50,219.91 L760.87,219.81 L762.24,219.73 L763.60,219.64 L764.97,219.55 L766.34,219.46 L767.71,219.38 L769.08,219.29 L770.45,219.20 L771.82,219.12 L773.19,219.04 L774.56,218.95 L775.93,218.87 L777.30,218.79 L778.67,218.71 L780.04,218.63 L781.41,218.55 L782.78,218.46 L784.15,218.38 L785.52,218.30 L786.89,218.23 L788.26,218.15 L789.62,218.07 L790.99,217.99 L792.36,217.91 L793.73,217.83 L795.10,217.75 L796.47,217.67 L797.84,217.59 L799.21,217.51 L800.58,217.43 L801.95,217.35 L803.32,217.27 L804.69,217.19 L806.06,217.11 L807.43,217.03 L808.80,216.95 L810.17,216.86 L811.54,216.78 L812.91,216.70 L814.28,216.61 L815.65,216.53 L817.01,216.45 L818.38,216.36 L819.75,216.28 L821.12,216.19 L822.49,216.11 L823.86,216.03 L825.23,215.94 L826.60,215.86 L827.97,215.78 L829.34,215.69 L830.71,215.61 L832.08,215.53 L833.45,215.44 L834.82,215.36 L836.19,215.28 L837.56,215.19 L838.93,215.11 L840.30,215.03 L841.67,214.95 L843.03,214.86 L844.40,214.78 L845.77,214.70 L847.14,214.62 L848.51,214.53 L849.88,214.45 L851.25,214.37 L852.62,214.29 L853.99,214.21 L855.36,214.13 L856.73,214.04 L858.10,213.96 L859.47,213.88 L860.84,213.80 L862.21,213.72 L863.58,213.64 L864.95,213.56 L866.32,213.48 L867.69,213.39 L869.05,213.31 L870.42,213.23 L871.79,213.15 L873.16,213.07 L874.53,212.99 L875.90,212.91 L877.27,212.83 L878.64,212.75 L880.01,212.67 L881.38,212.59 L882.75,212.51 L884.12,212.43 L885.49,212.35 L886.86,212.27 L888.23,212.20 L889.60,212.12 L890.97,212.04 L892.34,211.96 L893.71,211.88 L895.08,211.80" stroke="#ff8a8a" stroke-width="1.8" fill="none"/>
<path d="M485.60,267.00 L486.97,266.12 L488.34,265.25 L489.71,264.40 L491.08,263.57 L492.45,262.75 L493.82,261.95 L495.19,261.17 L496.56,260.41 L497.93,259.67 L499.29,258.95 L500.66,258.25 L502.03,257.58 L503.40,256.93 L504.77,256.30 L506.14,255.70 L507.51,255.10 L508.88,254.52 L510.25,253.96 L511.62,253.41 L512.99,252.87 L514.36,252.35 L515.73,251.84 L517.10,251.35 L518.47,250.87 L519.84,250.41 L521.21,249.97 L522.58,249.54 L523.95,249.12 L525.31,248.72 L526.68,248.34 L528.05,247.97 L529.42,247.60 L530.79,247.25 L532.16,246.91 L533.53,246.58 L534.90,246.26 L536.27,245.95 L537.64,245.64 L539.01,245.34 L540.38,245.05 L541.75,244.76 L543.12,244.48 L544.49,244.20 L545.86,243.92 L547.23,243.64 L548.60,243.36 L549.97,243.08 L551.34,242.81 L552.70,242.54 L554.07,242.28 L555.44,242.03 L556.81,241.80 L558.18,241.57 L559.55,241.37 L560.92,241.18 L562.29,241.02 L563.66,240.87 L565.03,240.74 L566.40,240.62 L567.77,240.49 L569.14,240.37 L570.51,240.26 L571.88,240.15 L573.25,240.04 L574.62,239.94 L575.99,239.84 L577.36,239.75 L578.72,239.66 L580.09,239.57 L581.46,239.48 L582.83,239.40 L584.20,239.32 L585.57,239.24 L586.94,239.16 L588.31,239.09 L589.68,239.02 L591.05,238.95 L592.42,238.88 L593.79,238.81 L595.16,238.74 L596.53,238.68 L597.90,238.61 L599.27,238.55 L600.64,238.49 L602.01,238.42 L603.38,238.36 L604.74,238.30 L606.11,238.24 L607.48,238.18 L608.85,238.13 L610.22,238.07 L611.59,238.02 L612.96,237.96 L614.33,237.91 L615.70,237.86 L617.07,237.81 L618.44,237.76 L619.81,237.71 L621.18,237.67 L622.55,237.62 L623.92,237.57 L625.29,237.53 L626.66,237.48 L628.03,237.44 L629.40,237.39 L630.77,237.35 L632.13,237.31 L633.50,237.26 L634.87,237.22 L636.24,237.17 L637.61,237.13 L638.98,237.09 L640.35,237.04 L641.72,237.00 L643.09,236.95 L644.46,236.91 L645.83,236.86 L647.20,236.81 L648.57,236.77 L649.94,236.72 L651.31,236.68 L652.68,236.63 L654.05,236.59 L655.42,236.54 L656.79,236.50 L658.15,236.45 L659.52,236.41 L660.89,236.37 L662.26,236.32 L663.63,236.28 L665.00,236.24 L666.37,236.20 L667.74,236.15 L669.11,236.11 L670.48,236.07 L671.85,236.03 L673.22,235.99 L674.59,235.96 L675.96,235.92 L677.33,235.88 L678.70,235.85 L680.07,235.81 L681.44,235.78 L682.81,235.74 L684.17,235.71 L685.54,235.68 L686.91,235.64 L688.28,235.60 L689.65,235.57 L691.02,235.53 L692.39,235.50 L693.76,235.46 L695.13,235.43 L696.50,235.40 L697.87,235.36 L699.24,235.33 L700.61,235.30 L701.98,235.27 L703.35,235.24 L704.72,235.21 L706.09,235.18 L707.46,235.16 L708.83,235.13 L710.19,235.11 L711.56,235.09 L712.93,235.07 L714.30,235.05 L715.67,235.03 L717.04,235.02 L718.41,235.01 L719.78,235.00 L721.15,234.99 L722.52,234.98 L723.89,234.97 L725.26,234.96 L726.63,234.95 L728.00,234.94 L729.37,234.94 L730.74,234.93 L732.11,234.92 L733.48,234.91 L734.85,234.91 L736.22,234.90 L737.58,234.89 L738.95,234.88 L740.32,234.88 L741.69,234.87 L743.06,234.86 L744.43,234.86 L745.80,234.85 L747.17,234.85 L748.54,234.84 L749.91,234.83 L751.28,234.83 L752.65,234.82 L754.02,234.82 L755.39,234.81 L756.76,234.81 L758.13,234.80 L759.50,234.80 L760.87,234.79 L762.24,234.79 L763.60,234.78 L764.97,234.78 L766.34,234.78 L767.71,234.77 L769.08,234.77 L770.45,234.76 L771.82,234.76 L773.19,234.76 L774.56,234.75 L775.93,234.75 L777.30,234.75 L778.67,234.74 L780.04,234.74 L781.41,234.74 L782.78,234.73 L784.15,234.73 L785.52,234.73 L786.89,234.72 L788.26,234.72 L789.62,234.72 L790.99,234.72 L792.36,234.71 L793.73,234.71 L795.10,234.71 L796.47,234.71 L797.84,234.70 L799.21,234.70 L800.58,234.70 L801.95,234.70 L803.32,234.69 L804.69,234.69 L806.06,234.69 L807.43,234.69 L808.80,234.69 L810.17,234.68 L811.54,234.68 L812.91,234.68 L814.28,234.68 L815.65,234.67 L817.01,234.67 L818.38,234.67 L819.75,234.67 L821.12,234.67 L822.49,234.66 L823.86,234.66 L825.23,234.66 L826.60,234.66 L827.97,234.66 L829.34,234.65 L830.71,234.65 L832.08,234.65 L833.45,234.65 L834.82,234.65 L836.19,234.64 L837.56,234.64 L838.93,234.64 L840.30,234.64 L841.67,234.64 L843.03,234.64 L844.40,234.63 L845.77,234.63 L847.14,234.63 L848.51,234.63 L849.88,234.63 L851.25,234.63 L852.62,234.62 L853.99,234.62 L855.36,234.62 L856.73,234.62 L858.10,234.62 L859.47,234.62 L860.84,234.62 L862.21,234.62 L863.58,234.61 L864.95,234.61 L866.32,234.61 L867.69,234.61 L869.05,234.61 L870.42,234.61 L871.79,234.61 L873.16,234.61 L874.53,234.61 L875.90,234.61 L877.27,234.60 L878.64,234.60 L880.01,234.60 L881.38,234.60 L882.75,234.60 L884.12,234.60 L885.49,234.60 L886.86,234.60 L888.23,234.60 L889.60,234.60 L890.97,234.60 L892.34,234.60 L893.71,234.60 L895.08,234.60" stroke="#ff8a8a" stroke-width="1.8" fill="none" stroke-dasharray="6 3.4"/>
<rect x="518.65" y="194.20" width="11.8" height="11.8" fill="none" stroke="#7e7e7e" stroke-width="1.3"/><rect x="557.60" y="175.10" width="11.8" height="11.8" fill="none" stroke="#7e7e7e" stroke-width="1.3"/><rect x="596.55" y="165.10" width="11.8" height="11.8" fill="none" stroke="#7e7e7e" stroke-width="1.3"/><rect x="635.50" y="157.50" width="11.8" height="11.8" fill="none" stroke="#7e7e7e" stroke-width="1.3"/><rect x="674.45" y="152.30" width="11.8" height="11.8" fill="none" stroke="#7e7e7e" stroke-width="1.3"/><rect x="713.40" y="148.40" width="11.8" height="11.8" fill="none" stroke="#7e7e7e" stroke-width="1.3"/>
<rect x="518.65" y="170.60" width="11.8" height="11.8" fill="none" stroke="#7878ae" stroke-width="1.3"/><rect x="557.60" y="144.70" width="11.8" height="11.8" fill="none" stroke="#7878ae" stroke-width="1.3"/><rect x="596.55" y="131.20" width="11.8" height="11.8" fill="none" stroke="#7878ae" stroke-width="1.3"/><rect x="635.50" y="121.60" width="11.8" height="11.8" fill="none" stroke="#7878ae" stroke-width="1.3"/><rect x="674.45" y="113.70" width="11.8" height="11.8" fill="none" stroke="#7878ae" stroke-width="1.3"/><rect x="713.40" y="108.50" width="11.8" height="11.8" fill="none" stroke="#7878ae" stroke-width="1.3"/>
<rect x="518.65" y="241.40" width="11.8" height="11.8" fill="none" stroke="#ad6868" stroke-width="1.3"/><rect x="557.60" y="234.40" width="11.8" height="11.8" fill="none" stroke="#ad6868" stroke-width="1.3"/><rect x="596.55" y="232.60" width="11.8" height="11.8" fill="none" stroke="#ad6868" stroke-width="1.3"/><rect x="635.50" y="231.40" width="11.8" height="11.8" fill="none" stroke="#ad6868" stroke-width="1.3"/><rect x="674.45" y="229.50" width="11.8" height="11.8" fill="none" stroke="#ad6868" stroke-width="1.3"/><rect x="713.40" y="228.70" width="11.8" height="11.8" fill="none" stroke="#ad6868" stroke-width="1.3"/>
<circle cx="505.08" cy="207.10" r="3.9" fill="#aaaaaa"/><circle cx="544.02" cy="194.00" r="3.9" fill="#aaaaaa"/><circle cx="582.98" cy="179.50" r="3.9" fill="#aaaaaa"/><circle cx="621.93" cy="166.90" r="3.9" fill="#aaaaaa"/><circle cx="660.88" cy="156.00" r="3.9" fill="#aaaaaa"/><circle cx="699.83" cy="145.80" r="3.9" fill="#aaaaaa"/><circle cx="738.78" cy="136.40" r="3.9" fill="#aaaaaa"/>
<circle cx="505.08" cy="188.80" r="3.9" fill="#aaaaff"/><circle cx="544.02" cy="168.20" r="3.9" fill="#aaaaff"/><circle cx="582.98" cy="150.40" r="3.9" fill="#aaaaff"/><circle cx="621.93" cy="133.30" r="3.9" fill="#aaaaff"/><circle cx="660.88" cy="120.10" r="3.9" fill="#aaaaff"/><circle cx="699.83" cy="106.60" r="3.9" fill="#aaaaff"/><circle cx="738.78" cy="93.60" r="3.9" fill="#aaaaff"/>
<circle cx="505.08" cy="245.20" r="3.9" fill="#ff8a8a"/><circle cx="544.02" cy="246.40" r="3.9" fill="#ff8a8a"/><circle cx="582.98" cy="239.40" r="3.9" fill="#ff8a8a"/><circle cx="621.93" cy="233.00" r="3.9" fill="#ff8a8a"/><circle cx="660.88" cy="229.40" r="3.9" fill="#ff8a8a"/><circle cx="699.83" cy="225.40" r="3.9" fill="#ff8a8a"/><circle cx="738.78" cy="221.40" r="3.9" fill="#ff8a8a"/>
<text x="689.9" y="59.3" text-anchor="middle" font-size="14.9" font-weight="bold" fill="#000">(b)</text>
<text x="690.1" y="76.7" text-anchor="middle" font-size="14.9" font-weight="bold" fill="#000">Square Radius</text>
<rect x="517.0" y="47.7" width="93.2" height="74.3" fill="#fff" stroke="#3a3a3a" stroke-width="1.4" stroke-linejoin="round"/>
<path d="M563.5,55.1L560.4,60.7L563.5,66.3M574.6,55.1L578.1,60.7L574.6,66.3" fill="none" stroke="#111" stroke-width="0.9"/>
<text x="564.0" y="64.2" font-size="12.9" fill="#111" font-style="italic">r</text>
<text x="569.4" y="58.7" font-size="9.1" fill="#111">2</text>
<text x="578.6" y="68.2" font-size="11.2" fill="#111">∞</text>
<text x="579.2" y="58.7" font-size="8.8" fill="#111">NCSM</text>
<path d="M531.2,75.60H543.6" stroke="#aaaaff" stroke-width="1.6"/>
<text x="545" y="79.80" font-size="12.9" fill="#111" font-style="italic">r</text>
<text x="550.5" y="74.90" font-size="9.1" fill="#111">2</text>
<text x="549.6" y="83.70" font-size="9.2" fill="#111" font-style="italic">n</text>
<text x="562.9" y="79.80" font-size="12.9" fill="#111">8.093</text>
<path d="M531.2,92.30H543.6" stroke="#ff8a8a" stroke-width="1.6"/>
<text x="545" y="96.50" font-size="12.9" fill="#111" font-style="italic">r</text>
<text x="550.5" y="91.60" font-size="9.1" fill="#111">2</text>
<text x="549.6" y="100.40" font-size="9.2" fill="#111" font-style="italic">p</text>
<text x="562.9" y="96.50" font-size="12.9" fill="#111">3.473</text>
<path d="M531.2,109.00H543.6" stroke="#aaaaaa" stroke-width="1.6"/>
<text x="545" y="113.20" font-size="12.9" fill="#111" font-style="italic">r</text>
<text x="550.5" y="108.30" font-size="9.1" fill="#111">2</text>
<text x="549.6" y="117.10" font-size="9.2" fill="#111" font-style="italic">m</text>
<text x="560.5" y="113.20" font-size="12.9" fill="#111">6.500</text>
</g>
<path d="M454.6,0V295" stroke="#333" stroke-width="1.1"/>
<rect x="333.2" y="121.1" width="135.6" height="30.7" fill="#fff" stroke="#3a3a3a" stroke-width="1.4" stroke-linejoin="round"/>
<path d="M337.6,132.2H379.5" stroke="#000" stroke-width="1.3"/>
<circle cx="358.7" cy="132.2" r="3.2" fill="#000"/>
<path d="M337.6,144.7H379.5" stroke="#000" stroke-width="1.3" stroke-dasharray="4.8 2.4"/>
<rect x="353.7" y="139.6" width="10.4" height="10.4" fill="#fff" stroke="#666" stroke-width="1"/>
<text x="383.3" y="135.5" font-size="14.8" fill="#000">NCSM</text>
<text x="383.3" y="148.9" font-size="14.8" fill="#000">MR−IMSRG</text>
<rect x="0" y="0" width="1.4" height="295" fill="#888"/><rect x="936" y="0" width="1" height="295" fill="#666"/><rect x="0" y="0" width="937" height="1" fill="#444"/><rect x="0" y="294" width="937" height="1" fill="#444"/>
</svg></body></html>
